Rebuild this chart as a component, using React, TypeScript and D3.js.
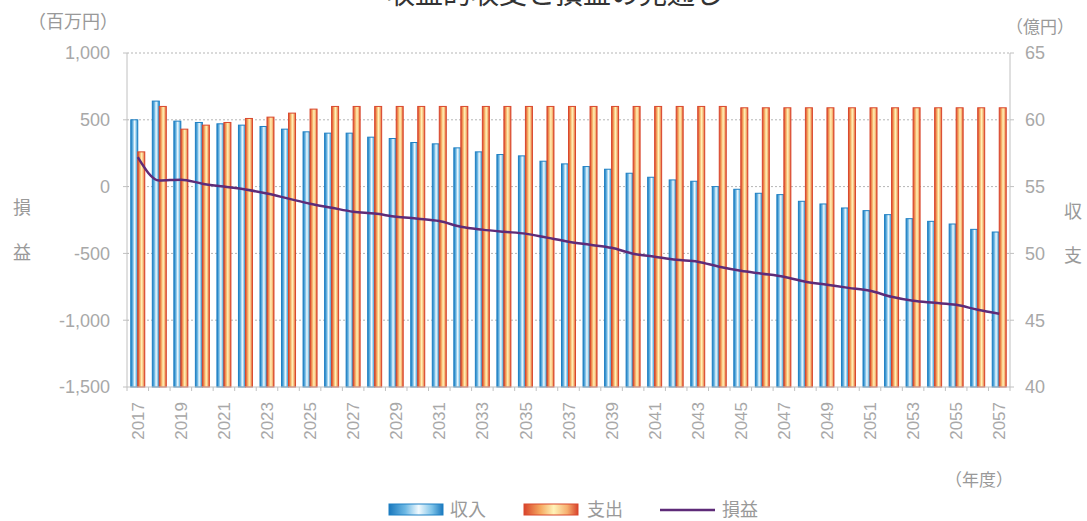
import React from "react";
import * as d3 from "d3";

const years: number[] = d3.range(2017, 2058);
const income: number[] = [
  60.0, 61.4, 59.9, 59.8, 59.7, 59.6, 59.5, 59.3, 59.1, 59.0,
  59.0, 58.7, 58.6, 58.3, 58.2, 57.9, 57.6, 57.4, 57.3, 56.9,
  56.7, 56.5, 56.3, 56.0, 55.7, 55.5, 55.4, 55.0, 54.8, 54.5,
  54.4, 53.9, 53.7, 53.4, 53.2, 52.9, 52.6, 52.4, 52.2, 51.8, 51.6,
];
const expense: number[] = [
  57.6, 61.0, 59.3, 59.6, 59.8, 60.1, 60.2, 60.5, 60.8, 61.0,
  61.0, 61.0, 61.0, 61.0, 61.0, 61.0, 61.0, 61.0, 61.0, 61.0,
  61.0, 61.0, 61.0, 61.0, 61.0, 61.0, 61.0, 61.0, 60.9, 60.9,
  60.9, 60.9, 60.9, 60.9, 60.9, 60.9, 60.9, 60.9, 60.9, 60.9, 60.9,
];
const profit: number[] = [
  220, 45, 52, 22, 0, -22, -52, -90, -128, -158,
  -188, -202, -225, -240, -258, -300, -322, -338, -352, -382,
  -412, -435, -458, -502, -525, -548, -562, -600, -630, -652,
  -675, -712, -735, -758, -780, -825, -855, -870, -885, -922, -952,
];
const leftTicks: number[] = [1000, 500, 0, -500, -1000, -1500];
const rightTicks: number[] = [65, 60, 55, 50, 45, 40];
const seriesNames: string[] = ["収入", "支出", "損益"];
const titleText = "収益的収支と損益の見通し";

const FONT = "'Noto Sans CJK JP', 'Noto Sans', sans-serif";
const NUMFONT = "'Liberation Sans', Arial, sans-serif";

export default function App() {
  const W = 1087, H = 521;
  const left = 127, right = 1010, top = 53, bottom = 387;

  const x = d3.scaleBand<number>().domain(years).range([left, right]).padding(0);
  const bw = x.bandwidth();
  const x1 = d3.scaleBand<string>().domain(["in", "out"]).range([bw / 2 - 7, bw / 2 + 7]);
  const yL = d3.scaleLinear().domain([-1500, 1000]).range([bottom, top]);
  const yR = d3.scaleLinear().domain([40, 65]).range([bottom, top]);

  const line = d3
    .line<number>()
    .x((_, i) => (x(years[i]) as number) + bw / 2)
    .y((d) => yL(d))
    .curve(d3.curveMonotoneX);

  const grey = "#a8a8a8";
  const fmt = (t: number) => d3.format(",")(t).replace("\u2212", "-");

  return (
    <svg
      width={W}
      height={H}
      style={{ position: "absolute", left: 0, top: 0, background: "#fff" }}
    >
      <defs>
        <linearGradient id="gBlue" x1="0" x2="1" y1="0" y2="0">
          <stop offset="0" stopColor="#1a78bd" />
          <stop offset="0.3" stopColor="#6cb8e4" />
          <stop offset="0.55" stopColor="#f2fafe" />
          <stop offset="0.8" stopColor="#7cc2e8" />
          <stop offset="1" stopColor="#1a78bd" />
        </linearGradient>
        <linearGradient id="gOrange" x1="0" x2="1" y1="0" y2="0">
          <stop offset="0" stopColor="#d8432b" />
          <stop offset="0.3" stopColor="#f5a860" />
          <stop offset="0.55" stopColor="#fff3b8" />
          <stop offset="0.8" stopColor="#f6b070" />
          <stop offset="1" stopColor="#d8432b" />
        </linearGradient>
      </defs>

      {/* title (partially cut off at top, as in the reference) */}
      <text
        x={555}
        y={4}
        textAnchor="middle"
        fontFamily={FONT}
        fontSize={28}
        fill="#333"
      >
        {titleText}
      </text>

      {/* gridlines */}
      {leftTicks.slice(0, 5).map((t) => (
        <line
          key={"g" + t}
          x1={left}
          x2={right}
          y1={yL(t)}
          y2={yL(t)}
          stroke="#b5b5b5"
          strokeWidth={1}
          strokeDasharray="2,2"
        />
      ))}

      {/* bars */}
      {years.map((yr, i) => {
        const bx = x(yr) as number;
        return (
          <g key={yr}>
            <rect
              x={bx + (x1("in") as number)}
              width={x1.bandwidth()}
              y={yR(income[i])}
              height={yR(40) - yR(income[i])}
              fill="url(#gBlue)"
              stroke="#1f80c4"
              strokeWidth={1}
            />
            <rect
              x={bx + (x1("out") as number)}
              width={x1.bandwidth()}
              y={yR(expense[i])}
              height={yR(40) - yR(expense[i])}
              fill="url(#gOrange)"
              stroke="#d9482e"
              strokeWidth={1}
            />
          </g>
        );
      })}

      {/* axes lines */}
      <line x1={left} x2={left} y1={top} y2={bottom} stroke="#c0c0c0" />
      <line x1={right} x2={right} y1={top} y2={bottom} stroke="#c0c0c0" />
      <line x1={left} x2={right} y1={bottom} y2={bottom} stroke="#c0c0c0" />
      {years.concat([2058]).map((yr, i) => {
        const xx = left + i * bw;
        return (
          <line key={"t" + yr} x1={xx} x2={xx} y1={bottom} y2={bottom + 4} stroke="#c0c0c0" />
        );
      })}
      {leftTicks.map((t) => (
        <line key={"lt" + t} x1={left - 4} x2={left} y1={yL(t)} y2={yL(t)} stroke="#c0c0c0" />
      ))}
      {rightTicks.map((t) => (
        <line key={"rt" + t} x1={right} x2={right + 4} y1={yR(t)} y2={yR(t)} stroke="#c0c0c0" />
      ))}

      {/* profit line */}
      <path d={line(profit) || ""} fill="none" stroke="#5e2b78" strokeWidth={2.5} />

      {/* left tick labels */}
      {leftTicks.map((t) => (
        <text
          key={"ll" + t}
          x={110}
          y={yL(t)}
          dy="0.36em"
          textAnchor="end"
          fontFamily={NUMFONT}
          fontSize={18}
          fill={grey}
        >
          {fmt(t)}
        </text>
      ))}
      {/* right tick labels */}
      {rightTicks.map((t) => (
        <text
          key={"rl" + t}
          x={1025}
          y={yR(t)}
          dy="0.36em"
          textAnchor="start"
          fontFamily={NUMFONT}
          fontSize={18}
          fill={grey}
        >
          {t}
        </text>
      ))}
      {/* year labels */}
      {years
        .filter((_, i) => i % 2 === 0)
        .map((yr) => {
          const cx = (x(yr) as number) + bw / 2;
          return (
            <text
              key={"yl" + yr}
              transform={`translate(${cx},${402}) rotate(-90)`}
              dy="0.36em"
              textAnchor="end"
              fontFamily={NUMFONT}
              fontSize={17}
              fill={grey}
            >
              {yr}
            </text>
          );
        })}

      {/* unit labels */}
      <text x={28} y={28} fontFamily={FONT} fontSize={18} fill="#999">（百万円）</text>
      <text x={1006} y={33} fontFamily={FONT} fontSize={17} fill="#999">（億円）</text>
      <text x={945} y={486} fontFamily={FONT} fontSize={17} fill="#999">（年度）</text>
      <text x={22} y={214} textAnchor="middle" fontFamily={FONT} fontSize={18} fill="#999">損</text>
      <text x={22} y={259} textAnchor="middle" fontFamily={FONT} fontSize={18} fill="#999">益</text>
      <text x={1073} y={218} textAnchor="middle" fontFamily={FONT} fontSize={18} fill="#999">収</text>
      <text x={1073} y={262} textAnchor="middle" fontFamily={FONT} fontSize={18} fill="#999">支</text>

      {/* legend */}
      <rect x={389} y={504} width={54} height={11} fill="url(#gBlue)" stroke="#1f80c4" />
      <text x={450} y={516} fontFamily={FONT} fontSize={18} fill="#999">{seriesNames[0]}</text>
      <rect x={524} y={504} width={54} height={11} fill="url(#gOrange)" stroke="#d9482e" />
      <text x={587} y={516} fontFamily={FONT} fontSize={18} fill="#999">{seriesNames[1]}</text>
      <line x1={660} x2={715} y1={510} y2={510} stroke="#5e2b78" strokeWidth={2.5} />
      <text x={722} y={516} fontFamily={FONT} fontSize={18} fill="#999">{seriesNames[2]}</text>
    </svg>
  );
}
